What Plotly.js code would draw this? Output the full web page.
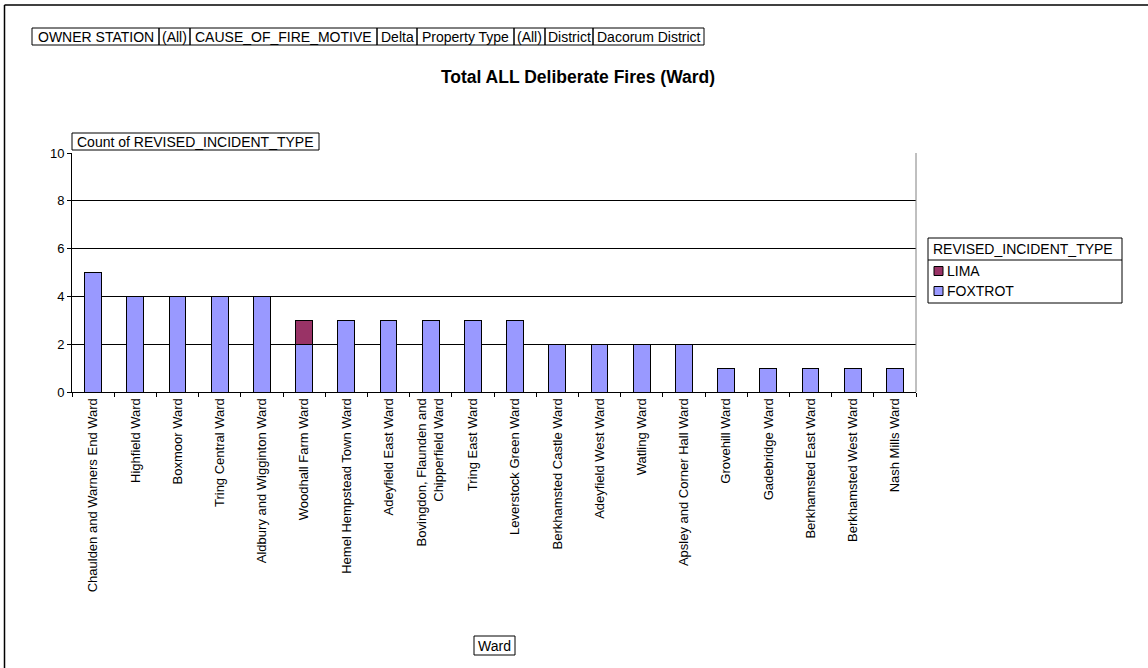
<!DOCTYPE html>
<html><head><meta charset="utf-8">
<script src="https://cdn.plot.ly/plotly-3.0.1.min.js"></script>
<style>html,body{margin:0;padding:0;background:#fff}#chart{width:1148px;height:668px}</style>
</head><body><div id="chart"></div>
<script>
const wards = ["Chaulden and Warners End Ward","Highfield Ward","Boxmoor Ward","Tring Central Ward","Aldbury and Wigginton Ward","Woodhall Farm Ward","Hemel Hempstead Town Ward","Adeyfield East Ward","Bovingdon, Flaunden and<br>Chipperfield Ward","Tring East Ward","Leverstock Green Ward","Berkhamsted Castle Ward","Adeyfield West Ward","Watling Ward","Apsley and Corner Hall Ward","Grovehill Ward","Gadebridge Ward","Berkhamsted East Ward","Berkhamsted West Ward","Nash Mills Ward"];
const foxtrot = [5,4,4,4,4,2,3,3,3,3,3,2,2,2,2,1,1,1,1,1];
const lima =    [0,0,0,0,0,1,0,0,0,0,0,0,0,0,0,0,0,0,0,0];
const seriesNames = ["LIMA","FOXTROT"];
const seriesColors = {LIMA:"#993366", FOXTROT:"#9999FF"};
const legendTitle = "REVISED_INCIDENT_TYPE";
const filterLabels = ["OWNER STATION","(All)","CAUSE_OF_FIRE_MOTIVE","Delta","Property Type","(All)","District","Dacorum District"];
const filterEdges = [32,159,190,377,417,514,545,593,704];

const L=72, R=916, T=153, B=392, W=1148, H=668;
const px = x => (x-L)/(R-L);
const py = y => (B-y)/(B-T);
const fam = "Liberation Sans, Arial, sans-serif";
const font = {family:fam, size:14, color:"#000"};
const tickFont = {family:fam, size:13, color:"#000"};

const traces = [
  {type:"bar", name:"FOXTROT", x:wards, y:foxtrot, marker:{color:seriesColors.FOXTROT, line:{color:"#000", width:1}}},
  {type:"bar", name:"LIMA", x:wards, y:lima.map(v=>v||null), marker:{color:seriesColors.LIMA, line:{color:"#000", width:1}}}
];

const annotations = [];
const shapes = [];
function box(x0,x1,y0,y1){
  shapes.push({type:"rect", xref:"paper", yref:"paper", x0:px(x0), x1:px(x1), y0:py(y1), y1:py(y0), line:{color:"#000", width:1}, fillcolor:"rgba(0,0,0,0)"});
}
for (let i=0;i<filterLabels.length;i++){
  const x0=filterEdges[i], x1=filterEdges[i+1];
  box(x0,x1,28,45);
  annotations.push({xref:"paper", yref:"paper", x:px((x0+x1)/2), y:py(36.5), xanchor:"center", yanchor:"middle",
    text:filterLabels[i], showarrow:false, font:font});
}
box(72,319,133,150);
annotations.push({xref:"paper", yref:"paper", x:px(195.5), y:py(141.5), xanchor:"center", yanchor:"middle",
  text:"Count of REVISED_INCIDENT_TYPE", showarrow:false, font:font});
box(474,515,636,655);
annotations.push({xref:"paper", yref:"paper", x:px(494.5), y:py(645.5), xanchor:"center", yanchor:"middle",
  text:"Ward", showarrow:false, font:font});

// legend
box(928,1122,238,303);
shapes.push({type:"line", xref:"paper", yref:"paper", x0:px(928), x1:px(1122), y0:py(260), y1:py(260), line:{color:"#000", width:1}});
annotations.push({xref:"paper", yref:"paper", x:px(931), y:py(249), xanchor:"left", yanchor:"middle",
  text:legendTitle, showarrow:false, font:font});
seriesNames.forEach((n,i)=>{
  const yc = 271 + i*20;
  shapes.push({type:"rect", xref:"paper", yref:"paper", x0:px(934), x1:px(943), y0:py(yc+4.5), y1:py(yc-4.5), fillcolor:seriesColors[n], line:{color:"#000", width:1}});
  annotations.push({xref:"paper", yref:"paper", x:px(945), y:py(yc), xanchor:"left", yanchor:"middle", text:n, showarrow:false, font:font});
});

shapes.push({type:"line", xref:"paper", yref:"paper", x0:px(4.5), x1:px(1148), y0:py(5), y1:py(5), line:{color:"#000", width:1.5}});
shapes.push({type:"line", xref:"paper", yref:"paper", x0:px(4.5), x1:px(4.5), y0:py(5), y1:py(668), line:{color:"#000", width:1.5}});
shapes.push({type:"line", xref:"paper", yref:"paper", x0:1, x1:1, y0:0, y1:1, line:{color:"#808080", width:1}});

const layout = {
  width:W, height:H, margin:{l:L, r:W-R, t:T, b:H-B}, paper_bgcolor:"#fff", plot_bgcolor:"#fff",
  font:font, barmode:"stack", bargap:0.6, showlegend:false,
  title:{text:"<b>Total ALL Deliberate Fires (Ward)</b>", font:{family:fam, size:17.5, color:"#000"}, xref:"container", x:578/W, xanchor:"center", yref:"container", y:1-77/H, yanchor:"middle"},
  xaxis:{type:"category", tickangle:-90, showline:true, linecolor:"#000", linewidth:1, ticks:"outside", tickson:"boundaries", ticklen:4, tickcolor:"#000", showgrid:false, tickfont:tickFont, automargin:false},
  yaxis:{range:[0,10], dtick:2, showline:true, linecolor:"#000", linewidth:1, ticks:"outside", ticklen:4, tickcolor:"#000", showgrid:true, gridcolor:"#000", gridwidth:1, zeroline:false, tickfont:tickFont, automargin:false},
  annotations:annotations, shapes:shapes
};
Plotly.newPlot("chart", traces, layout, {displayModeBar:false, staticPlot:true});
</script></body></html>
